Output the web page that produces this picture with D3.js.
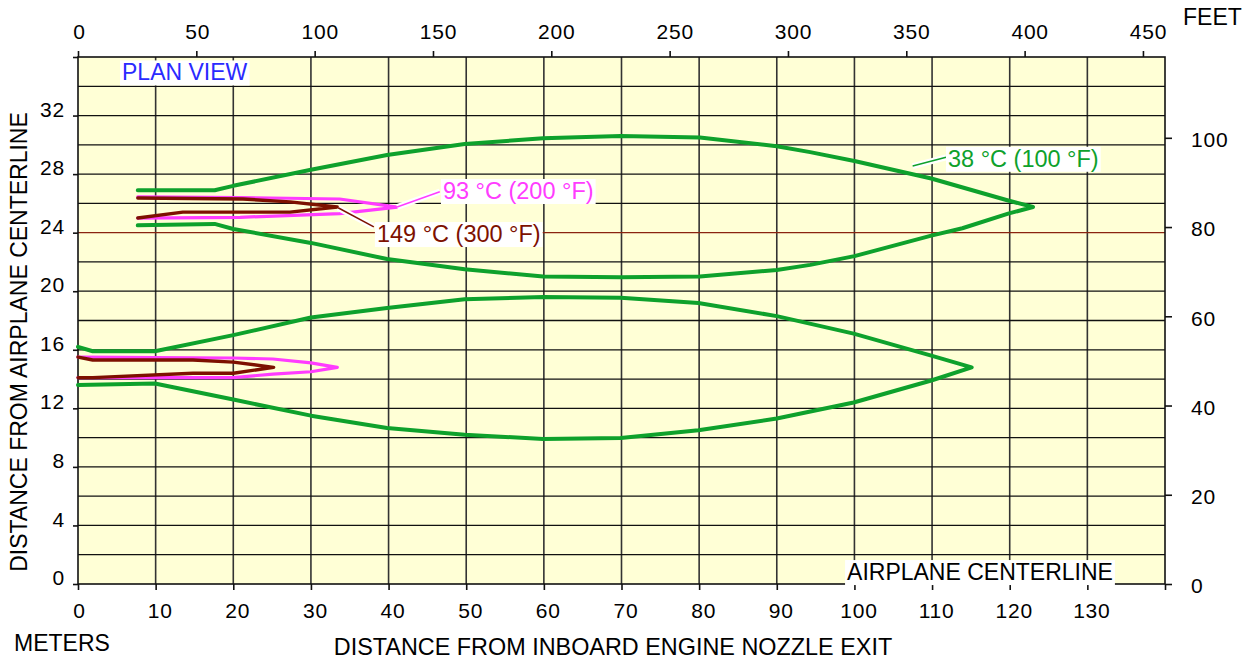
<!DOCTYPE html>
<html><head><meta charset="utf-8">
<script src="https://cdn.jsdelivr.net/npm/d3@7/dist/d3.min.js"></script>
<style>
html,body{margin:0;padding:0;background:#fff;}
svg{display:block;font-family:"Liberation Sans",Arial,Helvetica,sans-serif;}
</style></head>
<body>
<svg id="chart" width="1256" height="661"></svg>
<script>
// ---- Data (meters) ----
const xTicksMeters = [0,10,20,30,40,50,60,70,80,90,100,110,120,130];
const xTicksFeet = [0,50,100,150,200,250,300,350,400,450];
const yTicksMeters = [0,4,8,12,16,20,24,28,32];
const yTicksFeet = [0,20,40,60,80,100];

// 38 °C (100 °F) contour, inboard (upper) engine: [distance, lateral]
const green38Upper = [[7.7,26.9],[17.6,26.9],[20,27.2],[30,28.3],[39.8,29.3],[49.8,30.05],[59.9,30.45],[69.9,30.6],[75,30.55],[80.1,30.5],[90,29.9],[94.3,29.5],[100,28.9],[109.9,27.7],[119.8,26.2],[123,25.75],[119.8,25.3],[113.9,24.3],[109.9,23.8],[100,22.4],[94.3,21.8],[90,21.45],[80.1,21.0],[69.9,20.95],[59.9,21.0],[49.8,21.5],[39.8,22.2],[30,23.3],[20,24.25],[17.6,24.6],[7.7,24.5]];
// 38 °C contour, outboard (lower) engine
const green38Lower = [[0,16.2],[1.9,15.9],[9.9,15.9],[20,17.0],[30,18.2],[39.8,18.85],[49.8,19.45],[59.9,19.6],[69.9,19.55],[79.9,19.2],[90,18.3],[99.9,17.1],[109.9,15.6],[115.1,14.8],[109.9,13.9],[99.9,12.4],[90,11.3],[79.9,10.5],[69.9,9.97],[59.9,9.9],[49.8,10.2],[39.8,10.65],[30,11.5],[20,12.6],[9.9,13.7],[0,13.6]];
// 93 °C (200 °F) contours
const magenta93Upper = [[7.7,26.45],[20.9,26.4],[33.7,26.3],[41.1,25.75],[33.7,25.3],[20.9,25.05],[7.7,25.0]];
const magenta93Lower = [[0,15.5],[20,15.44],[25.1,15.37],[30,15.1],[33.4,14.8],[30,14.5],[25.1,14.34],[20,14.1],[0,14.1]];
// 149 °C (300 °F) contours
const red149Upper = [[7.7,26.37],[21.25,26.3],[27.3,26.1],[33.4,25.75],[27.3,25.4],[13.5,25.4],[7.7,25.0]];
const red149Lower = [[0,15.5],[1.9,15.3],[14.8,15.3],[20,15.16],[25.2,14.8],[20,14.4],[14.8,14.4],[1.9,14.1],[0,14.1]];

const labelTexts = ["38 °C (100 °F)","93 °C (200 °F)","149 °C (300 °F)"];
// annotation anchors (meters): text start, baseline; leader from/to
const labelAnchors = [[112.05,28.5],[47.0,26.3],[38.5,23.36]];
const leaderLines = [[[107.5,28.55],[111.8,29.15]],[[41.1,25.75],[46.6,26.8]],[[33.5,25.7],[38.1,24.4]]];
const engineCenterline = 24;

// ---- Layout ----
const svg = d3.select("#chart");
const M2FT = 3.28084;
const x = d3.scaleLinear().domain([0,140]).range([78,1165]);
const y = d3.scaleLinear().domain([0,36]).range([584,57]);
const xFt = d3.scaleLinear().domain([0,140*M2FT]).range([78,1165]);
const yFt = d3.scaleLinear().domain([0,36*M2FT]).range([584,57]);

const colGreen = "#0ea12c", colMag = "#ff3cff", colRed = "#7d1100", colBlue = "#2a2aff";

// background
svg.append("rect").attr("x",x(0)).attr("y",y(36)).attr("width",x(140)-x(0)).attr("height",y(0)-y(36)).attr("fill","#ffffd6");

// grid
const g = svg.append("g");
g.selectAll("line.v").data(d3.range(10,140,10)).join("line")
  .attr("x1",d=>x(d)).attr("x2",d=>x(d)).attr("y1",y(0)).attr("y2",y(36))
  .attr("stroke","#333").attr("stroke-width",1.6);
g.selectAll("line.h").data(d3.range(2,36,2)).join("line")
  .attr("x1",x(0)).attr("x2",x(140)).attr("y1",d=>y(d)).attr("y2",d=>y(d))
  .attr("stroke",d=>d===engineCenterline?"#8a2410":"#111").attr("stroke-width",1.3);

// axes
function styleAxis(sel, fs){
  sel.select(".domain").remove();
  sel.selectAll(".tick line").attr("stroke","#111").attr("stroke-width",1.6);
  sel.selectAll(".tick text").attr("font-size",fs).attr("fill","#000")
    .attr("font-family","Liberation Sans, Arial, sans-serif").attr("letter-spacing","0.8px");
}
const ab = svg.append("g").attr("transform",`translate(0,${y(0)})`)
  .call(d3.axisBottom(x).tickValues(xTicksMeters.concat([140])).tickSize(6).tickPadding(13).tickFormat(d=>d<=130?d:""));
styleAxis(ab,21); ab.selectAll(".tick text").attr("dx",d=>String(d).length>1?4:1);
const at = svg.append("g").attr("transform",`translate(0,${y(36)})`)
  .call(d3.axisTop(xFt).tickValues(xTicksFeet).tickSize(6).tickPadding(12));
styleAxis(at,21); at.selectAll(".tick text").attr("dx",d=>String(d).length>2?5:1);
const al = svg.append("g").attr("transform",`translate(${x(0)},0)`)
  .call(d3.axisLeft(y).tickValues(yTicksMeters.concat([36])).tickSize(5).tickPadding(8).tickFormat(d=>d<=32?d:""));
styleAxis(al,21); al.selectAll(".tick text").attr("dy","0.03em");
const ar = svg.append("g").attr("transform",`translate(${x(140)},0)`)
  .call(d3.axisRight(yFt).tickValues(yTicksFeet).tickSize(7).tickPadding(19));
styleAxis(ar,21); ar.selectAll(".tick text").attr("dy","0.42em");

// frame
svg.append("rect").attr("x",x(0)).attr("y",y(36)).attr("width",x(140)-x(0)).attr("height",y(0)-y(36))
  .attr("fill","none").attr("stroke","#111").attr("stroke-width",1.6);

// contours
const line = d3.line().x(d=>x(d[0])).y(d=>y(d[1])).curve(d3.curveLinear);
const contours = [
  {d:green38Upper,c:colGreen,w:4},{d:green38Lower,c:colGreen,w:4},
  {d:magenta93Upper,c:colMag,w:3.2},{d:magenta93Lower,c:colMag,w:3.2},
  {d:red149Upper,c:colRed,w:3.4},{d:red149Lower,c:colRed,w:3.4}
];
svg.append("g").selectAll("path").data(contours).join("path")
  .attr("d",d=>line(d.d)).attr("fill","none").attr("stroke",d=>d.c).attr("stroke-width",d=>d.w)
  .attr("stroke-linejoin","round").attr("stroke-linecap","round");

// annotations
const labelColors = [colGreen,colMag,colRed];
const ann = svg.append("g");
leaderLines.forEach((l,i)=>{
  ann.append("line").attr("x1",x(l[0][0])).attr("y1",y(l[0][1])).attr("x2",x(l[1][0])).attr("y2",y(l[1][1]))
    .attr("stroke","#fff").attr("stroke-width",6);
  ann.append("line").attr("x1",x(l[0][0])).attr("y1",y(l[0][1])).attr("x2",x(l[1][0])).attr("y2",y(l[1][1]))
    .attr("stroke",labelColors[i]).attr("stroke-width",1.5);
});
function boxedText(px,py,txt,col,fs){
  const gg = svg.append("g");
  const r = gg.append("rect").attr("fill","#fff");
  const t = gg.append("text").attr("x",px).attr("y",py).attr("font-size",fs).attr("fill",col).text(txt);
  const b = t.node().getBBox();
  r.attr("x",b.x-2).attr("y",b.y+1).attr("width",b.width+4).attr("height",b.height-1);
  return gg;
}
labelTexts.forEach((t,i)=>boxedText(x(labelAnchors[i][0]),y(labelAnchors[i][1]),t,labelColors[i],23.5));
boxedText(x(5.67),y(34.4),"PLAN VIEW",colBlue,23);
boxedText(x(99.05),y(0.27),"AIRPLANE CENTERLINE","#000",23);

// titles
svg.append("text").attr("x",613).attr("y",655).attr("text-anchor","middle").attr("font-size",23.4).text("DISTANCE FROM INBOARD ENGINE NOZZLE EXIT");
svg.append("text").attr("x",14).attr("y",651).attr("font-size",23).text("METERS");
svg.append("text").attr("x",1183).attr("y",25).attr("font-size",23).text("FEET");
svg.append("text").attr("transform","translate(27,342) rotate(-90)").attr("text-anchor","middle").attr("font-size",23).text("DISTANCE FROM AIRPLANE CENTERLINE");
</script>
</body></html>
